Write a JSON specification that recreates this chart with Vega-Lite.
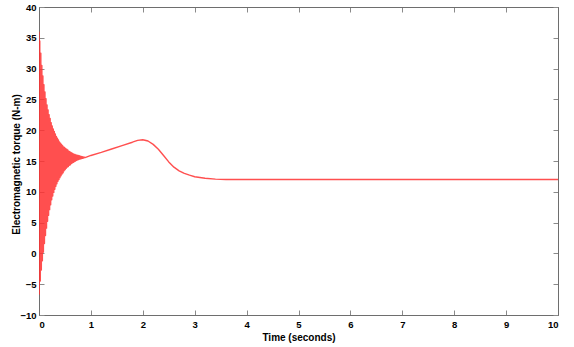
{
  "$schema": "https://vega.github.io/schema/vega-lite/v6.json",
  "width": 519,
  "height": 308,
  "autosize": {"type": "none"},
  "padding": {"left": 39, "top": 7, "right": 16, "bottom": 32},
  "background": "white",
  "config": {
    "view": {"stroke": "#6e6e6e", "strokeWidth": 1},
    "axis": {
      "grid": false,
      "domainColor": "#6e6e6e",
      "tickColor": "#8a8a8a",
      "tickSize": -5,
      "labelFont": "'Liberation Sans', Arial, sans-serif",
      "labelFontWeight": "bold",
      "labelFontSize": 9.5,
      "labelColor": "#000000",
      "titleFont": "'Liberation Sans', Arial, sans-serif",
      "titleFontWeight": "bold",
      "titleFontSize": 10,
      "titleColor": "#000000"
    }
  },
  "data": {
    "values": [
      {"t": 0.00, "v": 36}, {"t": 0.005, "v": -6.6}, {"t": 0.015, "v": 34.5}, {"t": 0.025, "v": -4.5},
      {"t": 0.035, "v": 32.5}, {"t": 0.045, "v": -2.7}, {"t": 0.055, "v": 30.5}, {"t": 0.065, "v": -1.2},
      {"t": 0.075, "v": 28.8}, {"t": 0.085, "v": 0.2}, {"t": 0.095, "v": 27.4}, {"t": 0.105, "v": 1.6},
      {"t": 0.115, "v": 26.2}, {"t": 0.125, "v": 2.9}, {"t": 0.135, "v": 25.1}, {"t": 0.145, "v": 4.1},
      {"t": 0.155, "v": 24.1}, {"t": 0.165, "v": 5.2}, {"t": 0.175, "v": 23.3}, {"t": 0.185, "v": 6.2},
      {"t": 0.195, "v": 22.5}, {"t": 0.205, "v": 7.1}, {"t": 0.215, "v": 21.9}, {"t": 0.225, "v": 7.9},
      {"t": 0.235, "v": 21.2}, {"t": 0.245, "v": 8.7}, {"t": 0.255, "v": 20.7}, {"t": 0.265, "v": 9.3},
      {"t": 0.275, "v": 20.2}, {"t": 0.285, "v": 9.9}, {"t": 0.295, "v": 19.8}, {"t": 0.305, "v": 10.4},
      {"t": 0.315, "v": 19.4}, {"t": 0.325, "v": 10.9}, {"t": 0.335, "v": 19.0}, {"t": 0.345, "v": 11.3},
      {"t": 0.355, "v": 18.7}, {"t": 0.365, "v": 11.7}, {"t": 0.375, "v": 18.4}, {"t": 0.385, "v": 12.0},
      {"t": 0.395, "v": 18.1}, {"t": 0.405, "v": 12.3}, {"t": 0.415, "v": 17.9}, {"t": 0.425, "v": 12.6},
      {"t": 0.435, "v": 17.7}, {"t": 0.445, "v": 12.9}, {"t": 0.455, "v": 17.5}, {"t": 0.465, "v": 13.1},
      {"t": 0.475, "v": 17.3}, {"t": 0.485, "v": 13.4}, {"t": 0.495, "v": 17.2}, {"t": 0.505, "v": 13.6},
      {"t": 0.515, "v": 17.0}, {"t": 0.525, "v": 13.8}, {"t": 0.535, "v": 16.9}, {"t": 0.545, "v": 14.0},
      {"t": 0.555, "v": 16.8}, {"t": 0.565, "v": 14.1}, {"t": 0.575, "v": 16.6}, {"t": 0.585, "v": 14.3},
      {"t": 0.595, "v": 16.5}, {"t": 0.605, "v": 14.4}, {"t": 0.615, "v": 16.4}, {"t": 0.625, "v": 14.6},
      {"t": 0.635, "v": 16.3}, {"t": 0.645, "v": 14.7}, {"t": 0.655, "v": 16.2}, {"t": 0.665, "v": 14.8},
      {"t": 0.675, "v": 16.1}, {"t": 0.685, "v": 14.9}, {"t": 0.695, "v": 16.05}, {"t": 0.705, "v": 15.0},
      {"t": 0.715, "v": 16.0}, {"t": 0.725, "v": 15.1}, {"t": 0.735, "v": 15.95}, {"t": 0.745, "v": 15.2},
      {"t": 0.755, "v": 15.9}, {"t": 0.765, "v": 15.25}, {"t": 0.775, "v": 15.85}, {"t": 0.785, "v": 15.3},
      {"t": 0.795, "v": 15.8}, {"t": 0.805, "v": 15.35}, {"t": 0.815, "v": 15.75}, {"t": 0.825, "v": 15.4},
      {"t": 0.835, "v": 15.7}, {"t": 0.845, "v": 15.45}, {"t": 0.855, "v": 15.65}, {"t": 0.865, "v": 15.5},
      {"t": 0.875, "v": 15.62}, {"t": 0.885, "v": 15.55}, {"t": 0.90, "v": 15.6},
      {"t": 1.0, "v": 15.9}, {"t": 1.2, "v": 16.4}, {"t": 1.4, "v": 16.95}, {"t": 1.6, "v": 17.5},
      {"t": 1.8, "v": 18.05}, {"t": 1.9, "v": 18.35}, {"t": 2.0, "v": 18.45}, {"t": 2.1, "v": 18.25},
      {"t": 2.2, "v": 17.7}, {"t": 2.3, "v": 16.9}, {"t": 2.4, "v": 15.9}, {"t": 2.5, "v": 14.85},
      {"t": 2.6, "v": 14.0}, {"t": 2.7, "v": 13.4}, {"t": 2.8, "v": 13.0}, {"t": 2.9, "v": 12.7},
      {"t": 3.0, "v": 12.45}, {"t": 3.2, "v": 12.2}, {"t": 3.4, "v": 12.05}, {"t": 3.6, "v": 12.0},
      {"t": 4.0, "v": 12.0}, {"t": 5.0, "v": 12.0}, {"t": 6.0, "v": 12.0}, {"t": 7.0, "v": 12.0},
      {"t": 8.0, "v": 12.0}, {"t": 9.0, "v": 12.0}, {"t": 10.0, "v": 12.0}
    ]
  },
  "layer": [
    {
      "mark": {"type": "line", "color": "#ff3030", "strokeWidth": 1.4, "opacity": 0.85, "strokeJoin": "round", "clip": true},
      "encoding": {
        "x": {
          "field": "t", "type": "quantitative",
          "scale": {"domain": [0, 10], "nice": false, "zero": false},
          "axis": {
            "orient": "bottom", "values": [0, 1, 2, 3, 4, 5, 6, 7, 8, 9, 10],
            "labelPadding": 9, "title": "Time (seconds)",
            "titleX": 259.5, "titleY": 22, "titleBaseline": "middle"
          }
        },
        "y": {
          "field": "v", "type": "quantitative",
          "scale": {"domain": [-10, 40], "nice": false, "zero": false},
          "axis": {
            "orient": "left", "values": [-10, -5, 0, 5, 10, 15, 20, 25, 30, 35, 40],
            "labelPadding": 8, "title": "Electromagnetic torque (N-m)",
            "titleAngle": -90, "titleX": -23, "titleY": 157,
            "titleAlign": "center", "titleBaseline": "middle"
          }
        }
      }
    },
    {
      "mark": {"type": "line", "opacity": 0},
      "encoding": {
        "x": {
          "field": "t", "type": "quantitative",
          "axis": {"orient": "top", "values": [0, 1, 2, 3, 4, 5, 6, 7, 8, 9, 10], "labels": false, "title": null}
        },
        "y": {
          "field": "v", "type": "quantitative",
          "axis": {"orient": "right", "values": [-10, -5, 0, 5, 10, 15, 20, 25, 30, 35, 40], "labels": false, "title": null}
        }
      }
    }
  ],
  "resolve": {"axis": {"x": "independent", "y": "independent"}}
}
